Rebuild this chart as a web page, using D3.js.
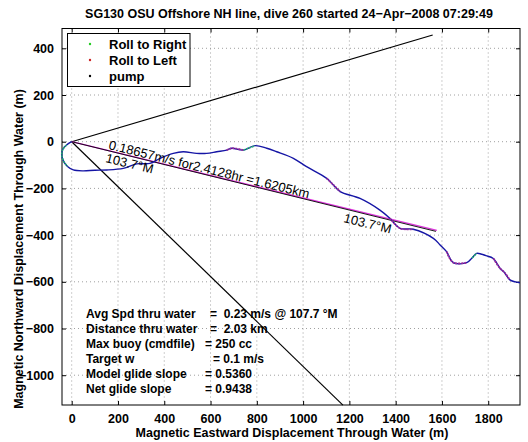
<!DOCTYPE html>
<html><head><meta charset="utf-8">
<script src="https://cdn.jsdelivr.net/npm/d3@7"></script>
<style>
body{margin:0;background:#fff;}
text{font-family:"Liberation Sans",Arial,Helvetica,sans-serif;}
</style></head>
<body>
<svg id="chart" width="528" height="442"></svg>
<script>
// ---- data ----
const title = "SG130 OSU Offshore NH line, dive 260 started 24\u2212Apr\u22122008 07:29:49";
const xLabel = "Magnetic Eastward Displacement Through Water (m)";
const yLabel = "Magnetic Northward Displacement Through Water (m)";
const xTicks = [0,200,400,600,800,1000,1200,1400,1600,1800];
const yTicks = [-1000,-800,-600,-400,-200,0,200,400];
const trackX = [0,-22,-38,-43,-36,-18,7,50,100,151,223,281,338,382,439,482,540,583,627,670,691,742,792,843,886,958,1015,1102,1131,1160,1246,1332,1375,1419,1476,1563,1592,1620,1649,1707,1730,1750,1790,1822,1851,1870,1894,1937];
const trackY = [0,-14,-32,-55,-82,-106,-121,-125,-122,-121,-114,-95,-93,-71,-50,-43,-50,-50,-43,-36,-28,-36,-17,-28,-43,-71,-107,-157,-185,-214,-243,-293,-328,-371,-375,-414,-442,-471,-518,-518,-498,-478,-488,-500,-542,-560,-592,-604];
const rollLeftRanges = [[19,21],[27,29],[32,34],[37,39],[43,46]];
const rollRightRanges = [[1,5],[21,22],[40,41]];
const headingLine = {x:[0,1574], y:[0,-384]};
const trackLine = {x:[0,1578], y:[0,-380]};
const upperLine = {x:[0,1560], y:[0,457]};
const lowerLine = {x:[0,1172], y:[0,-1128]};
const legendLabels = ["Roll to Right","Roll to Left","pump"];
const legendColors = ["#22cc22","#cc2222","#000000"];
const infoLabels = ["Avg Spd thru water","Distance thru water","Max buoy (cmdfile)","Target w","Model glide slope","Net glide slope"];
const infoValues = ["=  0.23 m/s @ 107.7 \u00B0M","=  2.03 km","= 250 cc","= 0.1 m/s","= 0.5360","= 0.9438"];
const lineText = "0.18657m/s for2.4128hr =1.6205km";
const headingText = "103.7\u00B0M";

// ---- layout ----
const svg = d3.select("#chart");
const L=62, R=520, T=28.5, B=405;
const x = d3.scaleLinear().domain([-41.9,1937.3]).range([L,R]);
const y = d3.scaleLinear().domain([-1127.6,484.8]).range([B,T]);

svg.append("rect").attr("width",528).attr("height",442).attr("fill","#fff");

// grid
const g = svg.append("g");
g.selectAll(".gx").data(xTicks).join("line")
  .attr("x1",d=>x(d)).attr("x2",d=>x(d)).attr("y1",T).attr("y2",B)
  .attr("stroke","#888").attr("stroke-width",0.8).attr("stroke-dasharray","1,3");
g.selectAll(".gy").data(yTicks).join("line")
  .attr("y1",d=>y(d)).attr("y2",d=>y(d)).attr("x1",L).attr("x2",R)
  .attr("stroke","#888").attr("stroke-width",0.8).attr("stroke-dasharray","1,3");

// axes
const fs = "12.5px";
const fmt = d3.format("d");
const axB = svg.append("g").attr("transform",`translate(0,${B})`)
  .call(d3.axisBottom(x).tickValues(xTicks).tickFormat(fmt).tickSizeInner(-4).tickSizeOuter(0).tickPadding(9));
const axT = svg.append("g").attr("transform",`translate(0,${T})`)
  .call(d3.axisTop(x).tickValues(xTicks).tickSizeInner(-4).tickSizeOuter(0).tickFormat(""));
const axL = svg.append("g").attr("transform",`translate(${L},0)`)
  .call(d3.axisLeft(y).tickValues(yTicks).tickFormat(d=>d<0?"\u2212"+Math.abs(d):fmt(d)).tickSizeInner(-4).tickSizeOuter(0).tickPadding(8));
const axR = svg.append("g").attr("transform",`translate(${R},0)`)
  .call(d3.axisRight(y).tickValues(yTicks).tickSizeInner(-4).tickSizeOuter(0).tickFormat(""));
[axB,axT,axL,axR].forEach(a=>{
  a.select(".domain").remove();
  a.selectAll("line").attr("stroke","#000");
  a.selectAll("text").attr("font-size",fs).attr("font-weight","bold").attr("fill","#000")
   .attr("font-family","Liberation Sans, Arial, sans-serif");
});

// frame
svg.append("rect").attr("x",L).attr("y",T).attr("width",R-L).attr("height",B-T)
  .attr("fill","none").attr("stroke","#000").attr("stroke-width",1);

const plot = svg.append("g");
const seg = (o,col,w)=>plot.append("line")
  .attr("x1",x(o.x[0])).attr("y1",y(o.y[0])).attr("x2",x(o.x[1])).attr("y2",y(o.y[1]))
  .attr("stroke",col).attr("stroke-width",w);
seg(upperLine,"#000",1.2);
seg(lowerLine,"#000",1.2);
seg(trackLine,"#dd33dd",1.3);
seg(headingLine,"#000",0.9);

// track
const pts = trackX.map((v,i)=>[v,trackY[i]]);
const line = d3.line().x(d=>x(d[0])).y(d=>y(d[1])).curve(d3.curveCatmullRom.alpha(0.5));
plot.append("path").attr("d",line(pts)).attr("fill","none").attr("stroke","#1515a5").attr("stroke-width",1.4);
rollLeftRanges.forEach(r=>{
  plot.append("path").attr("d",line(pts.slice(r[0],r[1]+1))).attr("fill","none")
    .attr("stroke","#9a2a9a").attr("stroke-width",1.8).attr("stroke-dasharray","2,1");
});
rollRightRanges.forEach(r=>{
  plot.append("path").attr("d",line(pts.slice(r[0],r[1]+1))).attr("fill","none")
    .attr("stroke","#20b070").attr("stroke-width",1.6).attr("stroke-dasharray","2,1");
});

// line annotations
const ang = Math.atan2(y(headingLine.y[1])-y(0), x(headingLine.x[1])-x(0))*180/Math.PI;
const ann = (str,px,py)=>plot.append("text").attr("transform",`translate(${px},${py}) rotate(${ang})`)
  .attr("font-size","13px").attr("fill","#000").text(str);
ann(lineText,108,149);
ann(headingText,105,162);
ann(headingText,343,222);

// legend
const lg = svg.append("g");
lg.append("rect").attr("x",67.5).attr("y",33.5).attr("width",122.5).attr("height",53)
  .attr("fill","#fff").attr("stroke","#000").attr("stroke-width",1);
legendLabels.forEach((t,i)=>{
  const yy = 44 + i*16;
  lg.append("circle").attr("cx",90).attr("cy",yy).attr("r",1.2).attr("fill",legendColors[i]);
  lg.append("text").attr("x",109).attr("y",yy+4.5).attr("font-size","13px").attr("font-weight","bold").text(t);
});

// info text
const info = svg.append("g").attr("font-size","12px").attr("font-weight","bold");
infoLabels.forEach((t,i)=>{
  const yy = 318 + i*15;
  info.append("text").attr("x",86).attr("y",yy).text(t);
  info.append("text").attr("x",i===0||i===1?210:(i===3?213:205)).attr("y",yy).attr("xml:space","preserve").style("white-space","pre").text(infoValues[i]);
});

// titles
svg.append("text").attr("x",289).attr("y",18).attr("text-anchor","middle")
  .attr("font-size","12.5px").attr("font-weight","bold").text(title);
svg.append("text").attr("x",292).attr("y",437).attr("text-anchor","middle")
  .attr("font-size","12.5px").attr("font-weight","bold").text(xLabel);
svg.append("text").attr("transform","translate(23,249) rotate(-90)").attr("text-anchor","middle")
  .attr("font-size","12.5px").attr("font-weight","bold").text(yLabel);
</script>
</body></html>
